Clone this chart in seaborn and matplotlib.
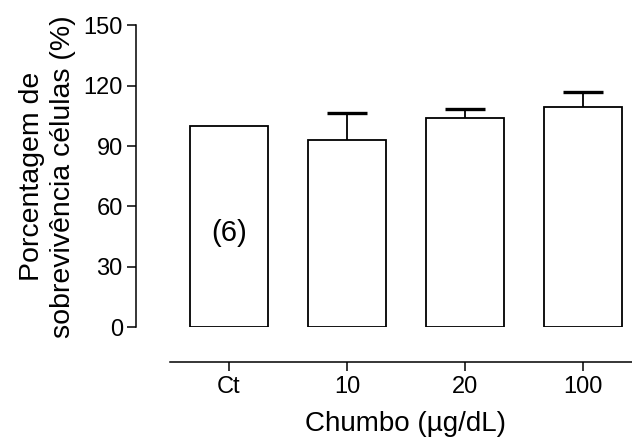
import numpy as np
import pandas as pd
import matplotlib
matplotlib.use("Agg")
import matplotlib.pyplot as plt
import seaborn as sns

# data
groups = ["Ct", "10", "20", "100"]
means = [100.0, 92.9, 104.0, 109.3]
sems = [0.0, 13.3, 4.2, 7.4]
n_label = "(6)"

sns.set_style("ticks")
plt.rcParams["font.family"] = ["Liberation Sans", "DejaVu Sans"]
for key in ["text.color", "axes.labelcolor", "xtick.color", "ytick.color",
            "axes.edgecolor"]:
    plt.rcParams[key] = "black"

df = pd.DataFrame({"grupo": groups, "media": means})

fig = plt.figure(figsize=(6.32, 4.38), dpi=100)
ax = fig.add_axes([0.269, 0.2523, 0.7464, 0.6906])

sns.barplot(data=df, x="grupo", y="media", color="white", edgecolor="black",
            linewidth=1.3, width=0.664, ax=ax, zorder=2)

# upward-only error bars, no cap on the bar top, none for the control
xs = np.arange(len(groups))
m = np.array(means)
e = np.array(sems)
has = e > 0
ax.vlines(xs[has], m[has], m[has] + e[has], color="black", lw=1.3, zorder=1)
ax.hlines(m[has] + e[has], xs[has] - 0.17, xs[has] + 0.17, color="black",
          lw=2.4, zorder=1)

ax.text(0, 47, n_label, ha="center", va="center", fontsize=21)

ax.set_xlim(-0.5, 3.5)
ax.set_ylim(0, 150)
ax.set_yticks([0, 30, 60, 90, 120, 150])

sns.despine(ax=ax)
ax.spines["left"].set_position(("outward", 24.5))
ax.spines["bottom"].set_position(("outward", 24.5))
for s in ["left", "bottom"]:
    ax.spines[s].set_linewidth(1.1)
ax.tick_params(axis="both", length=6.5, width=1.1, labelsize=17, pad=3)
ax.tick_params(axis="x", pad=4)

ax.set_xlabel("Chumbo (µg/dL)", fontsize=20, labelpad=9)
ax.set_ylabel("Porcentagem de\nsobrevivência células (%)", fontsize=20.5,
              labelpad=5, linespacing=1.25)

fig.savefig("out.png", dpi=100)
